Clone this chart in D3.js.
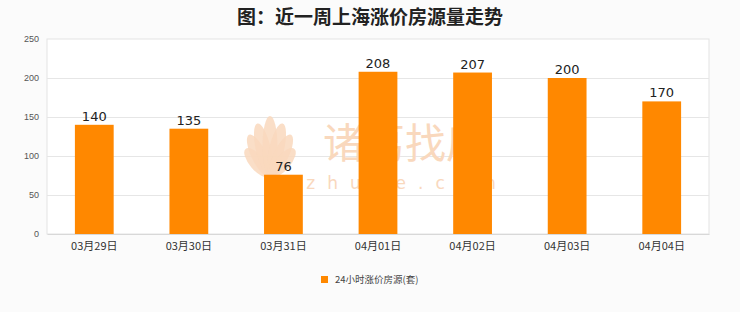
<!DOCTYPE html>
<html><head><meta charset="utf-8">
<script src="https://cdn.jsdelivr.net/npm/d3@7/dist/d3.min.js"></script>
<style>body{margin:0;background:#fbfbfb;}svg{display:block;}</style>
</head><body>
<script>
const categories = ["03月29日","03月30日","03月31日","04月01日","04月02日","04月03日","04月04日"];
const values = [140,135,76,208,207,200,170];
const yTicks = [0,50,100,150,200,250];
const title = "图：近一周上海涨价房源量走势";
const seriesName = "24小时涨价房源(套)";

const W=740,H=312;
const m={l:47,r:31,t:39,b:78};
const svg=d3.select("body").append("svg").attr("width",W).attr("height",H);
svg.append("rect").attr("width",W).attr("height",H).attr("fill","#fbfbfb");

const x=d3.scaleBand().domain(categories).range([m.l,W-m.r]).paddingInner(0.59).paddingOuter(0.295);
const y=d3.scaleLinear().domain([0,250]).range([H-m.b,m.t]);

// plot area
svg.append("rect").attr("x",m.l).attr("y",m.t).attr("width",W-m.r-m.l).attr("height",H-m.b-m.t)
  .attr("fill","#ffffff").attr("stroke","#e3e3e3");

// grid
svg.append("g").selectAll("line").data(yTicks.slice(1,-1)).join("line")
  .attr("x1",m.l).attr("x2",W-m.r).attr("y1",d=>y(d)+0.5).attr("y2",d=>y(d)+0.5)
  .attr("stroke","#e6e6e6");

// watermark (behind bars)
const wmColor="#f9d8bd";
const wm=svg.append("g");
const lotus=wm.append("g").attr("transform","translate(270,178)");
[-40,-26,-13,0,13,26,40].forEach((a,i)=>{
  const len = [36,46,54,60,54,46,36][i];
  lotus.append("ellipse").attr("cx",0).attr("cy",-len/2-2).attr("rx",7.5).attr("ry",len/2)
    .attr("transform",`rotate(${a})`).attr("fill",wmColor).attr("opacity",0.85);
});
wm.append("text").attr("x",405).attr("y",158).attr("text-anchor","middle")
  .attr("font-family","Noto Sans CJK SC").attr("font-size",41).attr("font-weight",400).attr("fill",wmColor).text("诸葛找房");
wm.append("text").attr("x",407).attr("y",189).attr("text-anchor","middle")
  .attr("font-family","DejaVu Sans").attr("font-size",17).attr("letter-spacing",12).attr("fill",wmColor).text("zhuge.com");

// y axis
const ya=svg.append("g").attr("transform",`translate(${m.l},0)`)
  .call(d3.axisLeft(y).tickValues(yTicks).tickSize(0).tickPadding(8));
ya.select(".domain").remove();
ya.selectAll("text").attr("font-family","Liberation Sans Narrow, Liberation Sans").attr("font-size",9).attr("fill","#555");

// bars
svg.append("g").selectAll("rect").data(values).join("rect")
  .attr("x",(d,i)=>x(categories[i])).attr("width",x.bandwidth())
  .attr("y",d=>y(d)).attr("height",d=>y(0)-y(d)).attr("fill","#ff8800");

// labels
svg.append("g").selectAll("text").data(values).join("text")
  .attr("x",(d,i)=>x(categories[i])+x.bandwidth()/2).attr("y",d=>y(d)-4)
  .attr("text-anchor","middle").attr("font-family","DejaVu Sans").attr("font-size",13).attr("fill","#222")
  .text(d=>d);

// x axis
const xa=svg.append("g").attr("transform",`translate(0,${H-m.b})`)
  .call(d3.axisBottom(x).tickSize(0).tickPadding(8));
xa.select(".domain").attr("stroke","#d8d8d8");
xa.selectAll("text").attr("font-family","Noto Sans CJK SC").attr("font-size",11).attr("fill","#333");

// title
svg.append("text").attr("x",370).attr("y",24).attr("text-anchor","middle")
  .attr("font-family","Noto Sans CJK SC").attr("font-weight","bold").attr("font-size",19).attr("fill","#222")
  .text(title);

// legend
const lg=svg.append("g").attr("transform","translate(321,276)");
lg.append("rect").attr("width",7).attr("height",7).attr("fill","#ff8800");
lg.append("text").attr("x",14).attr("y",7).attr("font-family","Noto Sans CJK SC").attr("font-size",9.5).attr("fill","#444").text(seriesName);
</script>
</body></html>
